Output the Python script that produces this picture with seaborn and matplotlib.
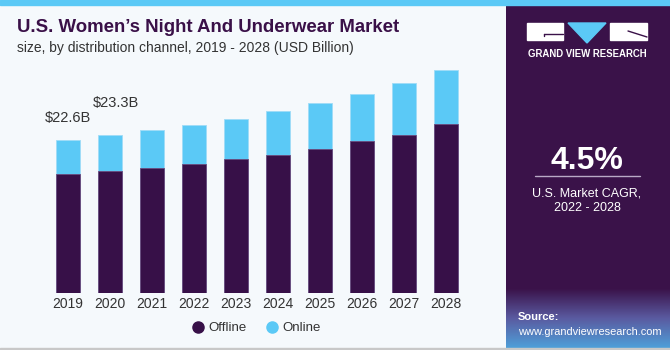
import matplotlib
matplotlib.use("Agg")
import matplotlib.pyplot as plt
from matplotlib.lines import Line2D
from matplotlib.patches import Rectangle, Polygon
from matplotlib.colors import LinearSegmentedColormap
import numpy as np
import pandas as pd
import seaborn as sns

# data (USD billion)
years = ["2019", "2020", "2021", "2022", "2023", "2024", "2025", "2026", "2027", "2028"]
offline = [17.6, 18.0, 18.5, 19.1, 19.8, 20.4, 21.3, 22.4, 23.4, 24.9]
online = [5.0, 5.3, 5.5, 5.7, 5.9, 6.5, 6.7, 7.0, 7.6, 8.1]
labels = {"2019": "$22.6B", "2020": "$23.3B"}

dark = "#371048"
light = "#5bc9f6"
bg = "#f5f9fc"

df = pd.DataFrame({"year": years, "offline": offline, "online": online})
df["total"] = df["offline"] + df["online"]

sns.set_theme(style="white")
plt.rcParams["font.family"] = ["Liberation Sans", "DejaVu Sans"]

fig = plt.figure(figsize=(6.7, 3.5), dpi=100, facecolor=bg)
ax = fig.add_axes([47 / 670, 57 / 350, 420 / 670, 237 / 350])
ax.set_facecolor(bg)

sns.barplot(data=df, x="year", y="total", color=light, width=0.58,
            saturation=1, edgecolor="#9fdcf7", linewidth=0.6, ax=ax)
sns.barplot(data=df, x="year", y="offline", color=dark, width=0.58,
            saturation=1, edgecolor="#6a4a7d", linewidth=0.6, ax=ax)

ax.set_xlim(-0.5, 9.5)
ax.set_ylim(0, 35)
ax.set_xlabel("")
ax.set_ylabel("")
ax.set_yticks([])
for s in ["top", "right", "left", "bottom"]:
    ax.spines[s].set_visible(False)
ax.tick_params(axis="x", length=0, pad=3, labelsize=10, labelcolor="#333333")

# value labels (offsets in points, as placed in the reference)
label_offsets = {"2019": (0, 11), "2020": (4, 18)}
for i, y in enumerate(years):
    if y in labels:
        ax.annotate(labels[y], (i, df["total"][i]), xytext=label_offsets[y],
                    textcoords="offset points", ha="center", va="bottom",
                    fontsize=10.5, color="#333333")

handles = [Line2D([], [], marker="o", linestyle="", color=dark, markersize=8),
           Line2D([], [], marker="o", linestyle="", color=light, markersize=8)]
fig.legend(handles, ["Offline", "Online"], loc="center",
           bbox_to_anchor=(257 / 670, 1 - 328 / 350), ncol=2, frameon=False,
           fontsize=9.5, handlelength=0.8, handletextpad=0.4, columnspacing=1.5,
           labelcolor="#333333")

# title block
fig.text(17 / 670, 1 - 27 / 350, "U.S. Women\u2019s Night And Underwear Market", fontsize=13.4,
         fontweight="bold", color="#3a1048", va="center", ha="left")
fig.text(17 / 670, 1 - 48 / 350, "size, by distribution channel, 2019 - 2028 (USD Billion)",
         fontsize=10, color="#333333", va="center", ha="left")

# top strip and bottom border
fig.patches.append(Rectangle((0, 1 - 5 / 350), 1, 5 / 350, transform=fig.transFigure,
                             color=light, zorder=5))
fig.patches.append(Rectangle((0, 0), 1, 2 / 350, transform=fig.transFigure,
                             color="#c8c8c8", zorder=5))

# right panel
pan = fig.add_axes([506 / 670, 2 / 350, 164 / 670, 343 / 350])
pan.set_xlim(0, 164)
pan.set_ylim(345, 2)
pan.axis("off")
pan.add_patch(Rectangle((0, 0), 164, 350, color="#3a1249", zorder=0))
grad = np.linspace(0, 1, 60).reshape(-1, 1)
cmap = LinearSegmentedColormap.from_list("g", ["#3a1249", "#5a5aa0", "#4f9fd8"])
pan.imshow(grad, extent=(0, 164, 345, 285), aspect="auto", cmap=cmap, zorder=1)

# logo
pan.add_patch(Rectangle((21, 20), 36, 17, color="white", zorder=2))
pan.add_patch(Polygon([(62, 20), (100, 20), (81, 40)], closed=True, color=light, zorder=2))
pan.add_patch(Rectangle((104, 20), 37, 17, color="white", zorder=2))
pan.plot([38, 57], [31, 31], color="#3a1249", lw=1, zorder=3)
pan.plot([38, 38], [31, 33], color="#3a1249", lw=1, zorder=3)
pan.plot([122, 141], [28, 34], color="#3a1249", lw=1, zorder=3)
pan.text(81, 51, "GRAND VIEW RESEARCH", color="white", fontsize=6.9, fontweight="bold",
         ha="center", va="center", zorder=3)

pan.text(81, 158, "4.5%", color="white", fontsize=23, fontweight="bold", ha="center",
         va="center", zorder=3)
pan.plot([29, 134], [173, 173], color="#b9a9c6", lw=1, zorder=3)
pan.text(81, 190, "U.S. Market CAGR,", color="white", fontsize=9, ha="center", va="center", zorder=3)
pan.text(81, 205, "2022 - 2028", color="white", fontsize=9, ha="center", va="center", zorder=3)

pan.text(12, 314, "Source:", color="white", fontsize=8, fontweight="bold", ha="left",
         va="center", zorder=3)
pan.text(12, 329, "www.grandviewresearch.com", color="white", fontsize=7.9, ha="left",
         va="center", zorder=3)

fig.savefig("out.png", dpi=100, facecolor=bg)
